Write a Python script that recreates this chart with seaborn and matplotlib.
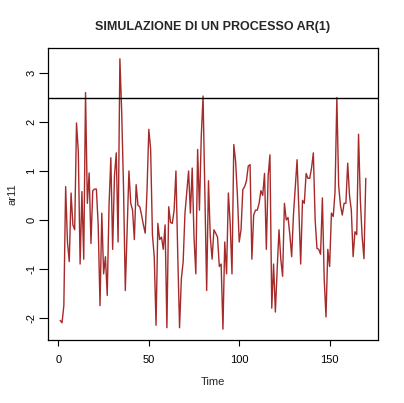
import numpy as np
import pandas as pd
import matplotlib
matplotlib.use("Agg")
import matplotlib.pyplot as plt
import seaborn as sns

ar11 = [
    -2.05, -2.1, -1.75, 0.68, -0.45, -0.85, 0.55, -0.1, -0.2, 1.98,
    1.4, -0.9, 0.58, -0.8, 2.6, 0.34, 0.96, -0.48, 0.6, 0.63,
    0.63, -0.1, -1.75, 0.14, -1.1, -0.75, -1.54, 0.3, 1.27, -0.6,
    0.9, 1.37, -0.45, 3.29, 2.2, 0.68, -1.44, -0.2, 1.0, 0.34,
    0.2, -0.4, 0.72, 0.3, 0.27, 0.1, -0.1, -0.27, 0.6, 1.85,
    1.45, -0.3, -0.75, -2.15, -0.07, -0.4, -0.35, -0.6, -0.1, -2.2,
    0.27, -0.05, -0.07, 0.2, 1.0, -0.7, -2.2, -1.2, -0.85, 0.14,
    0.58, 1.0, 0.14, 1.06, -0.35, -1.1, 1.44, 0.2, 1.7, 2.53,
    0.55, -1.44, 0.8, -0.35, -0.8, -0.2, -0.27, -0.35, -0.95, -0.9,
    -2.23, -0.45, -1.1, 0.55, -0.07, -1.1, 1.54, 1.2, 0.5, -0.45,
    -0.2, 0.62, 0.68, 0.8, 1.1, 1.13, -0.8, 0.1, 0.2, 0.2,
    0.34, 0.6, 0.5, 0.95, -0.6, 0.9, 1.33, -1.8, -0.9, -1.88,
    -1.0, -0.2, -0.8, -1.15, 0.34, 0.0, 0.05, -0.3, -0.75, 0.1,
    0.68, 1.23, 0.2, -0.9, 0.4, 0.34, 0.95, 0.85, 0.85, 1.06,
    1.37, 0.0, -0.58, -0.6, -0.7, 0.45, -1.2, -1.98, -0.6, -0.95,
    0.14, 0.07, 0.58, 2.5, 0.7, 0.3, 0.1, 0.34, 0.34, 1.16,
    0.5, 0.2, -0.75, -0.24, -0.3, 1.75, 0.4, -0.35, -0.79, 0.85,
]
time = list(range(1, len(ar11) + 1))
threshold = 2.5
x_ticks = [0, 50, 100, 150]
y_ticks = [-2, -1, 0, 1, 2, 3]
title = "SIMULAZIONE DI UN PROCESSO AR(1)"
x_label = "Time"
y_label = "ar11"

sns.set_style("ticks")
plt.rcParams["font.family"] = ["Liberation Sans", "DejaVu Sans"]

df = pd.DataFrame({"Time": time, "ar11": ar11})

fig = plt.figure(figsize=(4.04, 4.03), dpi=100)
ax = fig.add_axes([48 / 404, 1 - 340 / 403, 330 / 404, 292 / 403])

sns.lineplot(data=df, x="Time", y="ar11", color="#A52A2A", linewidth=1.0, ax=ax)
ax.axhline(threshold, color="black", linewidth=1.0)

ax.margins(x=0.04, y=0.04)
ax.set_xticks(x_ticks)
ax.set_yticks(y_ticks)
ax.set_xticklabels([str(v) for v in x_ticks])
ax.set_yticklabels([str(v) for v in y_ticks])

for s in ax.spines.values():
    s.set_visible(True)
    s.set_color("black")
    s.set_linewidth(0.9)

ax.tick_params(axis="x", length=4.5, width=0.8, pad=6, labelsize=8, colors="black")
ax.tick_params(axis="y", length=6.5, width=0.8, pad=2, labelsize=8, colors="black")
for lab in ax.get_yticklabels():
    lab.set_rotation(90)
    lab.set_va("center")

ax.set_xlabel(x_label, fontsize=8, labelpad=9)
ax.set_ylabel(y_label, fontsize=8, labelpad=6)
ax.set_title(title, fontsize=9, fontweight="bold", pad=13)

fig.savefig("out.png", dpi=100)
